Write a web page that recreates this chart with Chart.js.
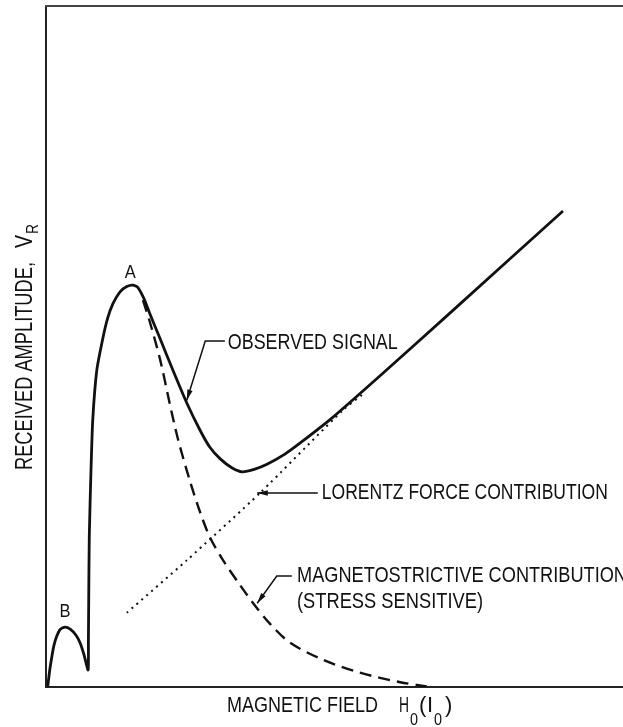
<!DOCTYPE html>
<html>
<head>
<meta charset="utf-8">
<script src="https://cdn.jsdelivr.net/npm/chart.js@4"></script>
<style>
  html, body { margin: 0; padding: 0; background: #fff; }
  #chart { display: block; }
</style>
</head>
<body>
<canvas id="chart" width="623" height="727"></canvas>
<script>
// magnetic field (arbitrary units 0..10) and received amplitude (0..10)
const fieldObserved = [0.03, 0.07, 0.14, 0.24, 0.33, 0.42, 0.52, 0.59, 0.66, 0.73,
    0.735, 0.74, 0.75, 0.78, 0.81, 0.88, 0.99, 1.07, 1.16, 1.28,
    1.40, 1.51, 1.59, 1.70, 1.80, 1.98, 2.20, 2.44, 2.67, 2.84,
    3.02, 3.22, 3.40, 3.62, 3.83, 4.14, 4.40, 4.97, 5.79, 7.00,
    8.96];
const ampObserved = [0.01, 0.28, 0.62, 0.84, 0.88, 0.85, 0.76, 0.65, 0.47, 0.25,
    0.69, 1.23, 2.20, 3.19, 3.92, 4.65, 5.14, 5.42, 5.63, 5.80,
    5.88, 5.90, 5.87, 5.70, 5.48, 5.11, 4.65, 4.17, 3.77, 3.52,
    3.35, 3.22, 3.16, 3.20, 3.27, 3.42, 3.58, 3.96, 4.57, 5.49,
    6.99];

const fieldMagneto = [1.68, 1.80, 1.98, 2.15, 2.29, 2.50, 2.67, 2.84, 3.07, 3.36,
    3.59, 3.88, 4.23, 4.80, 5.44, 6.14, 6.60];
const ampMagneto = [5.68, 5.36, 4.80, 4.14, 3.63, 3.01, 2.57, 2.20, 1.86, 1.50,
    1.23, 0.93, 0.65, 0.40, 0.21, 0.07, 0.01];

const fieldLorentz = [1.40, 2.44, 3.71, 5.15, 5.48];
const ampLorentz = [1.09, 1.86, 2.85, 4.07, 4.29];

const FONT = '"Liberation Sans", Arial, sans-serif';
const INK = '#111';

function pts(xs, ys) {
    return xs.map((x, i) => ({ x: x, y: ys[i] }));
}

function arrowHead(ctx, x0, y0, x1, y1, size) {
    const a = Math.atan2(y1 - y0, x1 - x0);
    ctx.beginPath();
    ctx.moveTo(x1, y1);
    ctx.lineTo(x1 - size * Math.cos(a - 0.25), y1 - size * Math.sin(a - 0.25));
    ctx.lineTo(x1 - size * Math.cos(a + 0.25), y1 - size * Math.sin(a + 0.25));
    ctx.closePath();
    ctx.fill();
}

// top frame line, labels, leaders and axis titles
const notesPlugin = {
    id: 'notes',
    afterDatasetsDraw(chart) {
        const ctx = chart.ctx;
        const area = chart.chartArea;
        const sx = v => chart.scales.x.getPixelForValue(v);
        const sy = v => chart.scales.y.getPixelForValue(v);

        ctx.save();
        ctx.strokeStyle = '#444';
        ctx.lineWidth = 2;
        ctx.beginPath();
        ctx.moveTo(area.left - 1, area.top);
        ctx.lineTo(area.right, area.top);
        ctx.stroke();

        ctx.fillStyle = INK;
        ctx.strokeStyle = INK;
        ctx.textBaseline = 'middle';
        ctx.textAlign = 'center';
        ctx.font = '19px ' + FONT;
        ctx.fillText('A', sx(1.46), sy(6.09), 11);
        ctx.fillText('B', sx(0.33), sy(1.10), 11);

        ctx.textAlign = 'left';
        ctx.font = '22px ' + FONT;
        ctx.fillText('OBSERVED SIGNAL', sx(3.15), sy(5.05), 170);
        ctx.fillText('LORENTZ FORCE CONTRIBUTION', sx(4.78), sy(2.85), 286);
        ctx.fillText('MAGNETOSTRICTIVE CONTRIBUTION', sx(4.35), sy(1.63), 330);
        ctx.fillText('(STRESS SENSITIVE)', sx(4.35), sy(1.25), 186);

        ctx.lineWidth = 1.5;
        // observed signal leader
        ctx.beginPath();
        ctx.moveTo(sx(3.10), sy(5.08));
        ctx.lineTo(sx(2.76), sy(5.08));
        ctx.lineTo(sx(2.44), sy(4.21));
        ctx.stroke();
        arrowHead(ctx, sx(2.76), sy(5.08), sx(2.44), sy(4.21), 11);
        // lorentz leader
        ctx.beginPath();
        ctx.moveTo(sx(4.71), sy(2.85));
        ctx.lineTo(sx(3.66), sy(2.85));
        ctx.stroke();
        arrowHead(ctx, sx(4.71), sy(2.85), sx(3.66), sy(2.85), 11);
        // magnetostrictive leader
        ctx.beginPath();
        ctx.moveTo(sx(4.26), sy(1.63));
        ctx.lineTo(sx(4.00), sy(1.63));
        ctx.lineTo(sx(3.66), sy(1.23));
        ctx.stroke();
        arrowHead(ctx, sx(4.00), sy(1.63), sx(3.66), sy(1.23), 11);

        // x axis title with subscripts
        ctx.textBaseline = 'alphabetic';
        ctx.font = '22px ' + FONT;
        const by = area.bottom + 25;
        ctx.fillText('MAGNETIC FIELD', 227, by, 151);
        ctx.fillText('H', 399, by, 10);
        ctx.fillText('(', 419, by);
        ctx.fillText('I', 427, by);
        ctx.fillText(')', 445, by);
        ctx.font = '16px ' + FONT;
        ctx.fillText('0', 410, by + 13, 8);
        ctx.fillText('0', 434, by + 13, 8);

        // y axis title
        ctx.translate(32, 470);
        ctx.rotate(-Math.PI / 2);
        ctx.font = '23px ' + FONT;
        ctx.fillText('RECEIVED AMPLITUDE,', 0, 0, 208);
        ctx.fillText('V', 222, 0, 13);
        ctx.font = '16px ' + FONT;
        ctx.fillText('R', 236, 6, 10);
        ctx.restore();
    }
};

const axisOpts = {
    type: 'linear',
    min: 0,
    max: 10,
    grid: { display: false, drawTicks: false },
    ticks: { display: false },
    border: { display: true, color: '#222', width: 2 }
};

new Chart(document.getElementById('chart'), {
    type: 'line',
    data: {
        datasets: [
            {
                label: 'Observed signal',
                data: pts(fieldObserved, ampObserved),
                borderColor: INK,
                borderWidth: 2.8,
                pointRadius: 0,
                tension: 0.2
            },
            {
                label: 'Magnetostrictive contribution',
                data: pts(fieldMagneto, ampMagneto),
                borderColor: INK,
                borderWidth: 2.4,
                borderDash: [12, 7],
                pointRadius: 0,
                tension: 0.3
            },
            {
                label: 'Lorentz force contribution',
                data: pts(fieldLorentz, ampLorentz),
                borderColor: INK,
                borderWidth: 2,
                borderDash: [2, 4.5],
                pointRadius: 0,
                tension: 0.2
            }
        ]
    },
    options: {
        responsive: false,
        animation: false,
        layout: { padding: { left: 46, top: 6, right: 0, bottom: 40 } },
        plugins: { legend: { display: false }, tooltip: { enabled: false } },
        scales: { x: axisOpts, y: { ...axisOpts } }
    },
    plugins: [notesPlugin]
});
</script>
</body>
</html>
